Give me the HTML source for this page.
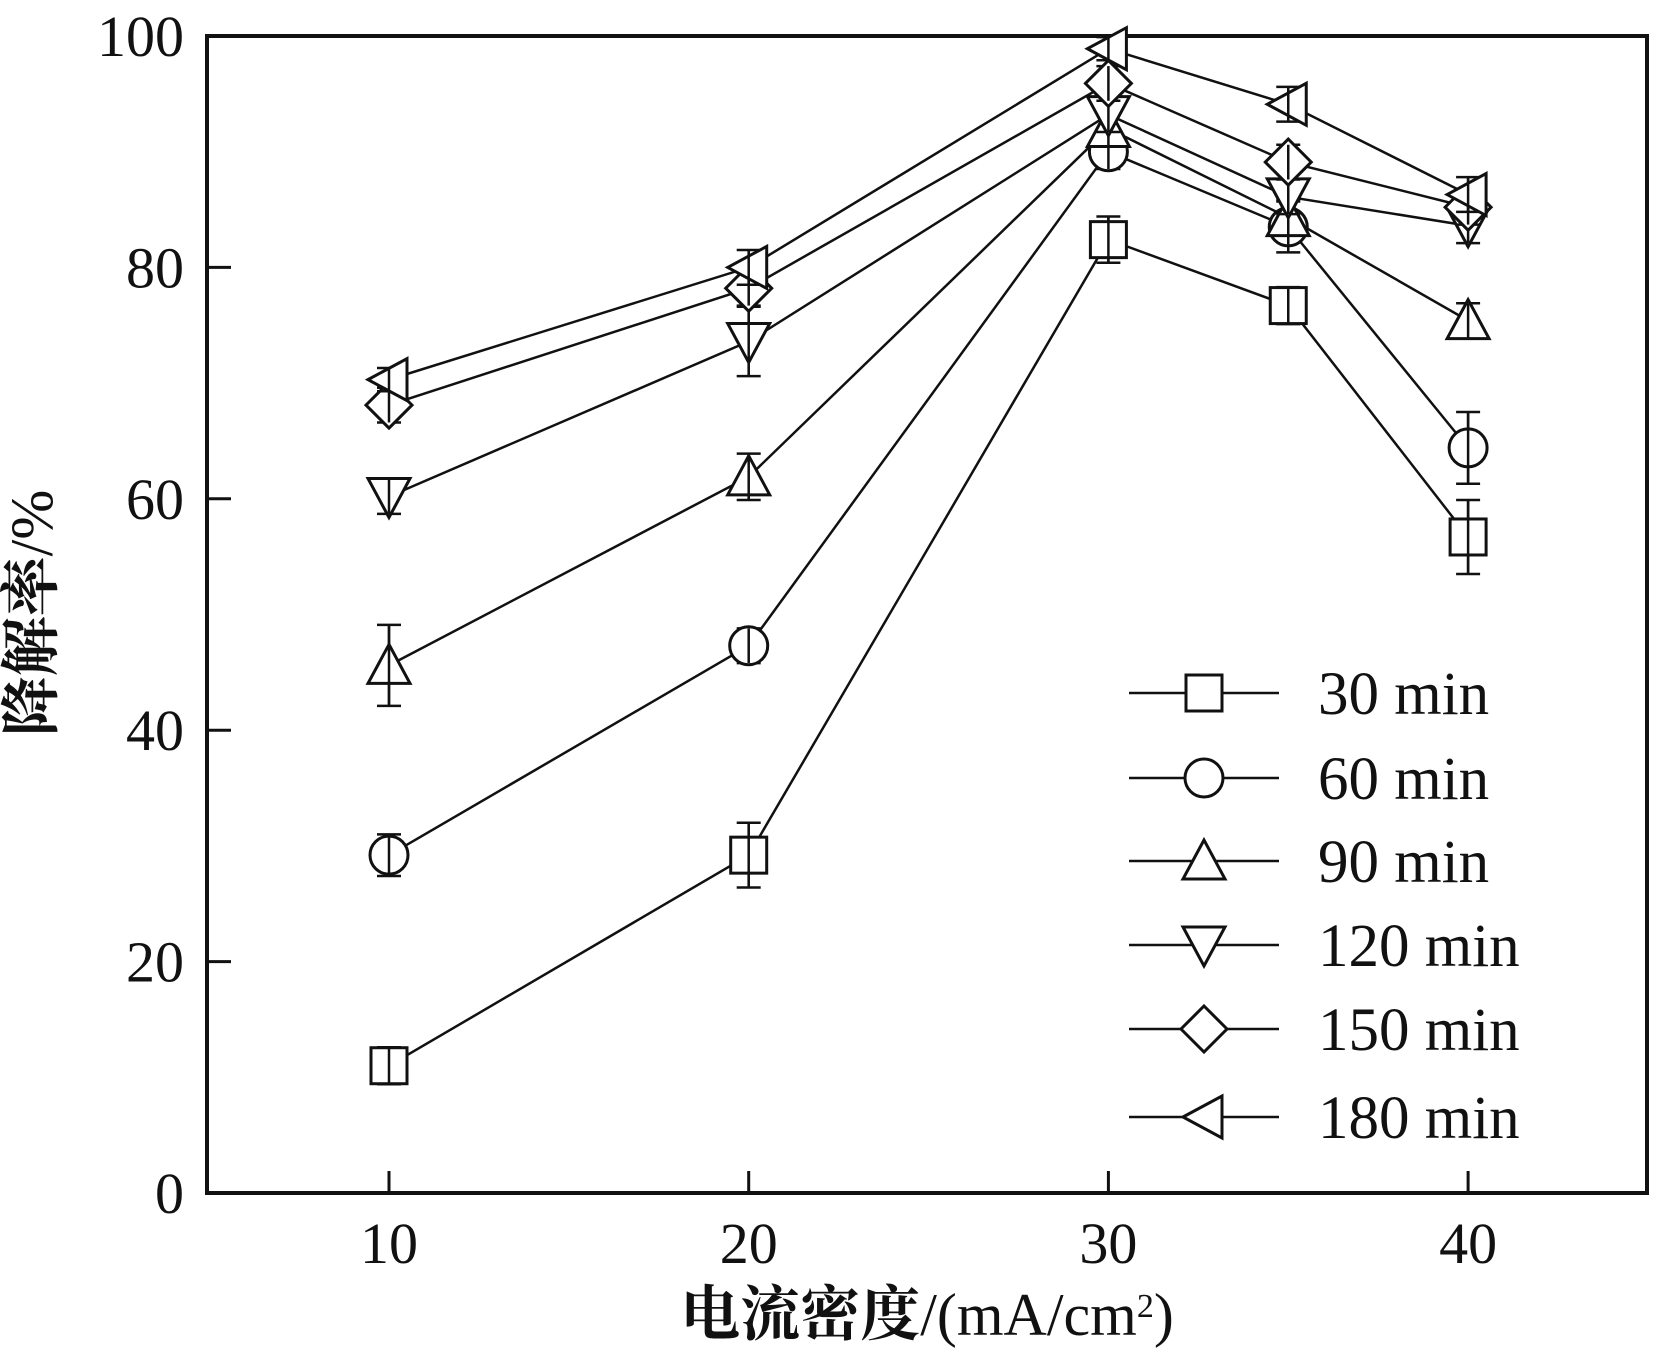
<!DOCTYPE html>
<html><head><meta charset="utf-8"><style>
html,body{margin:0;padding:0;background:#fff;}
svg text{font-family:"Liberation Serif","Noto Serif CJK SC",serif;fill:#111;}
</style></head><body>
<svg id="chart" width="1663" height="1348" viewBox="0 0 1663 1348" xmlns="http://www.w3.org/2000/svg"></svg>
<script>
const xValues = [10, 20, 30, 35, 40];
const seriesNames = ["30 min", "60 min", "90 min", "120 min", "150 min", "180 min"];
const s30 = [11, 29.2, 82.4, 76.7, 56.7];
const s60 = [29.2, 47.3, 90, 83.5, 64.4];
const s90 = [45.6, 61.9, 92, 84.3, 75.4];
const s120 = [60.2, 73.6, 93.2, 86.1, 83.6];
const s150 = [68.1, 78.2, 95.9, 89.1, 85.2];
const s180 = [70.3, 80, 98.9, 94.1, 86.3];
const e30 = [1.6, 2.8, 2, 1.6, 3.2];
const e60 = [1.8, 1.5, 1.5, 2.2, 3.1];
const e90 = [3.5, 2, 1.5, 1.5, 1.5];
const e120 = [1.5, 3, 1.5, 1.5, 1.5];
const e150 = [1.5, 1.5, 1.5, 1.5, 1.5];
const e180 = [1, 1.5, 1, 1.5, 1.5];
const xTicks = [10, 20, 30, 40];
const yTicks = [0, 20, 40, 60, 80, 100];

const svg = document.getElementById('chart');
const NS = 'http://www.w3.org/2000/svg';
const L = 207, R = 1647, T = 36, B = 1193;
function xs(v){ return 389 + (v - 10) * 35.97; }
function ys(v){ return B - (v / 100) * (B - T); }
function mk(tag, attrs, parent){
  const el = document.createElementNS(NS, tag);
  for (const k in attrs) el.setAttribute(k, attrs[k]);
  (parent || svg).appendChild(el);
  return el;
}
function marker(type, cx, cy, g){
  const r = 18;
  let el;
  const st = {fill:'#fff', stroke:'#111', 'stroke-width':3};
  if (type === 0) el = mk('rect', Object.assign({x:cx-r, y:cy-r, width:2*r, height:2*r}, st), g);
  else if (type === 1) el = mk('circle', Object.assign({cx:cx, cy:cy, r:r+1}, st), g);
  else if (type === 2) el = mk('polygon', Object.assign({points:`${cx},${cy-r-3} ${cx-r-3},${cy+r} ${cx+r+3},${cy+r}`}, st), g);
  else if (type === 3) el = mk('polygon', Object.assign({points:`${cx},${cy+r+3} ${cx-r-3},${cy-r} ${cx+r+3},${cy-r}`}, st), g);
  else if (type === 4) el = mk('polygon', Object.assign({points:`${cx},${cy-r-5} ${cx+r+5},${cy} ${cx},${cy+r+5} ${cx-r-5},${cy}`}, st), g);
  else el = mk('polygon', Object.assign({points:`${cx-r-3},${cy} ${cx+r},${cy-r-3} ${cx+r},${cy+r+3}`}, st), g);
  return el;
}

const frame = mk('rect', {x:L, y:T, width:R-L, height:B-T, fill:'none', stroke:'#111', 'stroke-width':4});



xTicks.forEach(v => {
  const t = mk('line', {x1:xs(v), x2:xs(v), y1:B, y2:B-22, stroke:'#111', 'stroke-width':3});
  
  
  const lb = mk('text', {x:xs(v), y:1263, 'font-size':58, 'text-anchor':'middle'});
  lb.textContent = v;
  
  
});
yTicks.forEach(v => {
  const t = mk('line', {x1:L, x2:L+24, y1:ys(v), y2:ys(v), stroke:'#111', 'stroke-width':3});
  
  
  const lb = mk('text', {x:184, y:ys(v)+20, 'font-size':58, 'text-anchor':'end'});
  lb.textContent = v;
  
  
});

const xt = mk('text', {x:927, y:1335, 'font-size':60, 'text-anchor':'middle'});
xt.innerHTML = '<tspan font-weight="bold">电流密度</tspan>/(mA/cm<tspan baseline-shift="super" font-size="34">2</tspan>)';


const yt = mk('text', {x:0, y:0, 'font-size':60, 'text-anchor':'middle', transform:'translate(52,613) rotate(-90)'});
yt.innerHTML = '<tspan font-weight="bold">降解率</tspan>/%';



const all = [s30, s60, s90, s120, s150, s180];
const errs = [e30, e60, e90, e120, e150, e180];
const names = ['series-30min','series-60min','series-90min','series-120min','series-150min','series-180min'];
all.forEach((s, i) => {
  const g = mk('g', {});
  
  
  const pts = s.map((v, j) => `${xs(xValues[j])},${ys(v)}`).join(' ');
  const pl = mk('polyline', {points:pts, fill:'none', stroke:'#111', 'stroke-width':2.5}, g);
  
  
  s.forEach((v, j) => {
    const cx = xs(xValues[j]), e = errs[i][j];
    const y1 = ys(v + e), y2 = ys(v - e);
    const eb = mk('path', {d:`M${cx},${y1}V${y2}M${cx-12},${y1}H${cx+12}M${cx-12},${y2}H${cx+12}`, stroke:'#111', 'stroke-width':2.5, fill:'none'}, g);
    
    
  });
  s.forEach((v, j) => {
    const m = marker(i, xs(xValues[j]), ys(v), g);
    
    
    const cx = xs(xValues[j]), e = errs[i][j];
    const inner = mk('path', {d:`M${cx},${ys(v+e)}V${ys(v-e)}`, stroke:'#111', 'stroke-width':2.5}, g);
    
    
  });
});

const legY = [693, 778, 861, 945, 1029, 1117];
const lg = mk('g', {});


seriesNames.forEach((n, i) => {
  const y = legY[i];
  const ln = mk('line', {x1:1129, x2:1279, y1:y, y2:y, stroke:'#111', 'stroke-width':2.5}, lg);
  
  
  const m = marker(i, 1204, y, lg);
  
  
  const t = mk('text', {x:1318, y:y+21, 'font-size':61}, lg);
  t.textContent = n;
  
  
});
</script>
</body></html>
